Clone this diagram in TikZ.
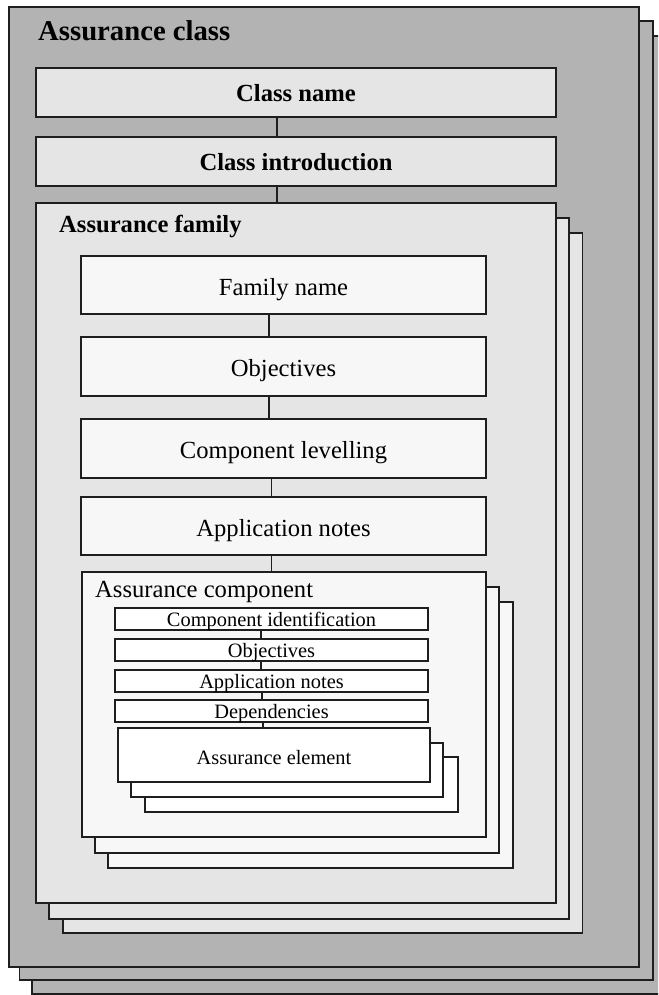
\documentclass[tikz,border=0pt]{standalone}
\usepackage{fontspec}
\setmainfont{Liberation Serif}
\definecolor{classgray}{HTML}{B3B3B3}
\definecolor{famgray}{HTML}{E5E5E5}
\definecolor{compgray}{HTML}{F7F7F7}
\definecolor{edgecol}{HTML}{1E1E1E}
\newcommand{\rbox}[7]{\node[#1, minimum width={#5-#3}, minimum height={#6-#4}] (#2) at ({(#3+#5)/2},{(#4+#6)/2}) {#7};}
\begin{document}
\begin{tikzpicture}[x=1pt,y=-1pt,
  panel/.style={rectangle,draw=edgecol,line width=1.2pt,inner sep=0pt,outer sep=0pt,
    text depth=0pt,align=center},
  classbox/.style={panel,fill=classgray},
  fambox/.style={panel,fill=famgray},
  compbox/.style={panel,fill=compgray},
  whitebox/.style={panel,fill=white},
  bigfont/.style={font=\fontsize{24.6}{28}\selectfont,text height=20pt},
  boldfont/.style={font=\fontsize{24.6}{28}\selectfont\bfseries,text height=17.5pt},
  smallfont/.style={font=\fontsize{20.4}{22}\selectfont,text height=14pt},
  elemfont/.style={font=\fontsize{20.4}{22}\selectfont,text height=18pt},
  title/.style={anchor=base west,inner sep=0pt},
  link/.style={draw=edgecol,line width=1.2pt}]
\useasboundingbox (0,0) rectangle (658,995);
\clip (0,0) rectangle (658,995);
% class stack
\rbox{classbox}{clsC}{32}{36}{668}{994}{}
\rbox{classbox}{clsB}{19.5}{21}{653}{980}{}
\rbox{classbox}{clsA}{9}{7}{639}{967}{}
\node[title,font=\fontsize{28.7}{32}\selectfont\bfseries] (clsT) at (38,41) {Assurance class};
\rbox{fambox,boldfont}{cname}{36}{68}{556}{117}{Class name}
\rbox{fambox,boldfont}{cintro}{36}{137}{556}{186}{Class introduction}
% family stack
\rbox{fambox}{famC}{63}{233}{582.5}{933}{}
\rbox{fambox}{famB}{49}{218}{569}{919}{}
\rbox{fambox}{famA}{36}{203}{556}{903}{}
\node[title,font=\fontsize{24.6}{28}\selectfont\bfseries] (famT) at (59,232) {Assurance family};
\rbox{compbox,bigfont}{fname}{81}{256}{486}{314}{Family name}
\rbox{compbox,bigfont}{fobj}{81}{337}{486}{396}{Objectives}
\rbox{compbox,bigfont}{flev}{81}{419}{486}{478}{Component levelling}
\rbox{compbox,bigfont}{fapp}{81}{497}{486}{555}{Application notes}
% component stack
\rbox{compbox}{compC}{108}{602}{513}{868}{}
\rbox{compbox}{compB}{95}{587}{499}{853}{}
\rbox{compbox}{compA}{82}{572}{486}{837}{}
\node[title,font=\fontsize{24.6}{28}\selectfont] (compT) at (95,597) {Assurance component};
\rbox{whitebox,smallfont}{cid}{115}{608}{428}{630}{Component identification}
\rbox{whitebox,smallfont}{cobj}{115}{639}{428}{661}{Objectives}
\rbox{whitebox,smallfont}{capp}{115}{670}{428}{692}{Application notes}
\rbox{whitebox,smallfont}{cdep}{115}{700}{428}{722}{Dependencies}
% element stack
\rbox{whitebox}{elC}{145}{757}{458}{812}{}
\rbox{whitebox}{elB}{131}{743}{443}{797}{}
\rbox{whitebox,elemfont}{elA}{118}{728}{430}{782}{Assurance element}
% connector x positions
\coordinate (xa) at (277,0);
\coordinate (xb) at (269,0);
\coordinate (xc) at (271.5,0);
\coordinate (xd) at (261,0);
\coordinate (xe) at (262,0);
\coordinate (xf) at (263,0);
\draw[link] (cname.south -| xa) -- (cintro.north -| xa);
\draw[link] (cintro.south -| xa) -- (famA.north -| xa);
\draw[link] (fname.south -| xb) -- (fobj.north -| xb);
\draw[link] (fobj.south -| xb) -- (flev.north -| xb);
\draw[link] (flev.south -| xc) -- (fapp.north -| xc);
\draw[link] (fapp.south -| xc) -- (compA.north -| xc);
\draw[link] (cid.south -| xd) -- (cobj.north -| xd);
\draw[link] (cobj.south -| xd) -- (capp.north -| xd);
\draw[link] (capp.south -| xe) -- (cdep.north -| xe);
\draw[link] (cdep.south -| xf) -- (elA.north -| xf);
\end{tikzpicture}
\end{document}
